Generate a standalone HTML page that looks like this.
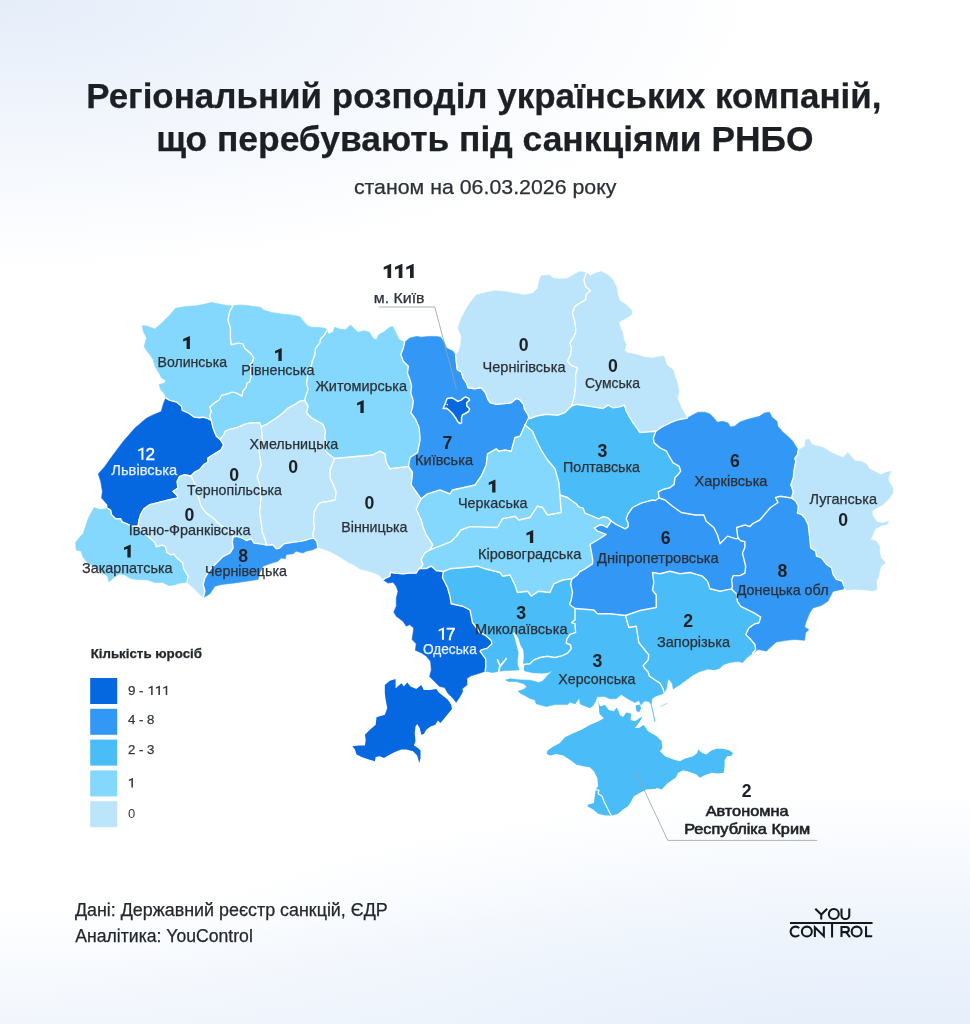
<!DOCTYPE html>
<html lang="uk"><head><meta charset="utf-8"><title>Регіональний розподіл</title>
<style>
html,body{margin:0;padding:0}
body{width:970px;height:1024px;position:relative;overflow:hidden;background:#fff;font-family:"Liberation Sans",sans-serif}
.bg{position:absolute;left:0;top:0;width:970px;height:1024px;
background:
radial-gradient(ellipse 760px 270px at 0px 0px, rgba(229,237,249,1) 0%, rgba(236,242,251,.8) 40%, rgba(255,255,255,0) 100%),
radial-gradient(ellipse 900px 300px at 900px 1090px, rgba(225,235,250,1) 0%, rgba(238,244,252,.85) 60%, rgba(255,255,255,0) 100%),
linear-gradient(to top, rgba(240,245,252,.9) 0px, rgba(255,255,255,0) 120px),
#fff}
</style></head><body><div class="bg"></div>
<svg width="970" height="1024" viewBox="0 0 970 1024" style="position:absolute;left:0;top:0;will-change:transform">
<g stroke-width="0.6" stroke-linejoin="round">
<path d="M165.7 397.9 L164.9 394.6 L160.7 389.6 L159.0 384.6 L164.9 382.9 L165.7 380.5 L161.5 378.0 L159.0 373.0 L154.9 366.3 L153.2 359.7 L149.9 354.7 L146.6 350.6 L144.1 346.4 L146.6 338.1 L143.3 331.5 L142.4 325.7 L145.8 325.7 L154.9 329.0 L160.7 324.0 L169.8 314.9 L175.6 308.3 L184.8 306.6 L196.4 305.8 L204.7 304.1 L211.3 302.4 L219.6 304.1 L227.9 305.8 L232.9 305.8 L229.6 311.6 L227.9 319.9 L230.4 328.2 L230.4 338.1 L231.2 344.8 L237.9 343.1 L242.9 343.9 L244.5 348.1 L251.2 353.9 L253.7 358.0 L252.0 363.0 L249.5 364.7 L250.3 369.7 L251.2 376.3 L249.5 382.1 L247.0 382.9 L246.2 387.1 L242.9 391.2 L242.0 396.2 L236.2 392.9 L232.1 392.1 L227.9 393.7 L221.3 395.4 L219.6 399.5 L214.6 402.9 L209.7 407.0 L211.3 411.2 L209.7 416.1 L211.3 420.3 L208.0 418.6 L203.0 417.0 L199.7 417.8 L193.9 417.0 L188.1 412.8 L182.3 410.3 L181.5 406.2 L176.5 402.0 L169.8 400.4Z" fill="#84d8fd" stroke="#84d8fd"/>
<path d="M108.2 508.7 L107.4 504.6 L101.6 497.9 L102.4 491.3 L100.7 481.3 L98.3 473.9 L104.9 466.4 L113.2 454.8 L123.2 441.5 L134.8 428.2 L146.4 418.3 L153.0 414.9 L161.3 411.6 L163.0 405.0 L165.7 397.9 L169.8 400.4 L176.5 402.0 L181.5 406.2 L182.3 410.3 L188.1 412.8 L193.9 417.0 L199.7 417.8 L203.0 417.0 L208.0 418.6 L211.3 420.3 L213.0 427.8 L214.6 431.9 L216.3 436.1 L220.0 439.2 L223.6 444.8 L221.1 449.8 L212.8 454.8 L207.8 458.1 L207.8 462.2 L203.7 464.7 L199.5 469.7 L194.5 472.2 L190.9 476.0 L184.6 474.7 L179.6 476.3 L177.1 481.3 L177.9 488.0 L172.9 491.3 L177.1 495.4 L177.9 497.9 L169.6 499.6 L159.7 502.1 L149.7 504.6 L143.9 508.7 L140.6 514.5 L138.9 520.3 L138.1 526.1 L131.5 526.1 L126.5 523.7 L122.3 522.0 L120.7 518.7 L115.7 518.7 L111.5 514.5 L110.7 510.4Z" fill="#0668e0" stroke="#0668e0"/>
<path d="M232.9 305.8 L239.5 304.9 L249.5 305.8 L261.1 307.4 L263.3 309.9 L271.6 312.4 L281.6 314.1 L291.5 314.9 L299.8 316.6 L303.1 320.7 L306.5 324.9 L311.4 327.3 L318.1 327.3 L324.7 328.2 L327.2 330.0 L323.9 335.6 L320.6 339.0 L319.7 343.1 L315.6 348.1 L314.8 354.7 L312.3 361.4 L310.6 368.0 L308.1 374.6 L306.5 382.9 L308.1 389.6 L305.6 396.2 L304.8 400.4 L299.8 401.2 L294.8 404.5 L288.2 407.8 L283.2 412.8 L276.6 417.8 L271.6 421.1 L266.6 424.4 L261.3 426.4 L259.5 422.8 L252.8 422.8 L246.2 423.6 L236.2 427.8 L229.6 429.4 L225.4 431.1 L222.9 436.1 L220.0 439.2 L216.3 436.1 L214.6 431.9 L213.0 427.8 L211.3 420.3 L209.7 416.1 L211.3 411.2 L209.7 407.0 L214.6 402.9 L219.6 399.5 L221.3 395.4 L227.9 393.7 L232.1 392.1 L236.2 392.9 L242.0 396.2 L242.9 391.2 L246.2 387.1 L247.0 382.9 L249.5 382.1 L251.2 376.3 L250.3 369.7 L249.5 364.7 L252.0 363.0 L253.7 358.0 L251.2 353.9 L244.5 348.1 L242.9 343.9 L237.9 343.1 L231.2 344.8 L230.4 338.1 L230.4 328.2 L227.9 319.9 L229.6 311.6Z" fill="#84d8fd" stroke="#84d8fd"/>
<path d="M327.2 330.0 L328.0 334.0 L333.0 332.3 L334.7 327.3 L339.6 329.0 L345.5 329.8 L350.4 324.9 L354.6 329.0 L357.9 332.3 L364.5 330.7 L369.5 332.3 L372.8 338.1 L376.2 339.8 L378.7 334.8 L384.5 331.5 L389.4 327.3 L392.8 326.5 L396.1 333.2 L399.4 339.8 L404.6 342.2 L403.3 348.0 L400.8 354.6 L403.3 361.3 L408.3 366.3 L407.4 372.9 L409.9 379.5 L411.6 386.2 L410.8 392.8 L413.3 401.1 L412.4 407.8 L410.8 412.7 L415.7 419.4 L419.1 427.7 L419.9 436.0 L420.0 440.0 L417.5 452.5 L410.0 457.5 L408.5 466.5 L390.0 468.8 L386.2 462.5 L385.0 453.8 L380.0 451.2 L372.5 455.0 L334.5 458.5 L328.9 454.3 L325.5 451.0 L326.4 444.4 L324.7 437.7 L325.5 431.1 L323.0 424.4 L317.2 421.1 L311.4 417.8 L306.5 412.8 L308.1 406.2 L304.8 400.4 L305.6 396.2 L308.1 389.6 L306.5 382.9 L308.1 374.6 L310.6 368.0 L312.3 361.4 L314.8 354.7 L315.6 348.1 L319.7 343.1 L320.6 339.0 L323.9 335.6Z" fill="#84d8fd" stroke="#84d8fd"/>
<path d="M404.6 342.2 L409.9 338.0 L416.6 336.4 L421.6 337.2 L428.2 336.4 L436.5 336.4 L440.6 337.2 L444.0 342.2 L446.5 348.0 L453.1 351.3 L455.6 355.5 L456.4 362.9 L457.2 369.6 L461.4 372.1 L463.0 377.9 L466.4 382.9 L468.0 387.8 L474.7 388.7 L481.3 387.8 L485.5 392.8 L487.9 399.5 L490.4 402.8 L496.2 404.4 L504.5 403.6 L511.2 402.8 L516.2 398.6 L519.5 399.5 L523.6 404.4 L524.5 409.4 L527.8 414.4 L528.8 417.5 L525.0 425.0 L520.0 436.2 L515.0 437.5 L511.2 451.2 L505.0 450.0 L498.8 451.2 L496.2 448.8 L487.5 453.8 L486.2 465.0 L481.2 476.2 L475.0 485.0 L452.5 490.0 L450.0 493.8 L440.0 490.0 L427.5 493.8 L421.2 498.8 L417.5 493.8 L411.2 485.0 L412.5 472.5 L408.5 466.5 L410.0 457.5 L417.5 452.5 L420.0 440.0 L419.9 436.0 L419.1 427.7 L415.7 419.4 L410.8 412.7 L412.4 407.8 L413.3 401.1 L410.8 392.8 L411.6 386.2 L409.9 379.5 L407.4 372.9 L408.3 366.3 L403.3 361.3 L400.8 354.6 L403.3 348.0Z" fill="#3397f5" stroke="#3397f5"/>
<path d="M455.6 355.5 L458.9 351.3 L460.6 344.7 L461.4 336.4 L458.1 328.1 L460.6 319.8 L464.7 311.5 L469.7 303.2 L476.3 294.9 L486.3 292.4 L494.6 290.7 L504.5 291.6 L514.5 293.2 L524.5 294.9 L532.8 293.2 L537.7 288.3 L539.4 280.0 L541.1 275.8 L549.4 275.0 L553.2 278.2 L559.8 279.1 L568.1 278.2 L574.8 274.1 L579.8 271.6 L586.4 272.4 L583.9 279.9 L585.6 286.5 L590.5 290.7 L586.4 294.0 L585.6 299.8 L579.8 303.1 L574.8 306.5 L572.3 313.1 L574.8 321.4 L575.6 328.0 L575.6 333.0 L573.1 338.0 L569.8 343.0 L571.5 347.9 L570.6 354.6 L567.3 361.2 L571.5 365.4 L577.3 367.9 L575.6 374.5 L575.6 384.5 L574.8 392.8 L573.1 401.1 L571.5 406.0 L564.8 412.7 L558.2 415.2 L546.6 414.3 L536.6 416.0 L530.0 418.5 L528.8 417.5 L527.8 414.4 L524.5 409.4 L523.6 404.4 L519.5 399.5 L516.2 398.6 L511.2 402.8 L504.5 403.6 L496.2 404.4 L490.4 402.8 L487.9 399.5 L485.5 392.8 L481.3 387.8 L474.7 388.7 L468.0 387.8 L466.4 382.9 L463.0 377.9 L461.4 372.1 L457.2 369.6 L456.4 362.9Z" fill="#bce5fc" stroke="#bce5fc"/>
<path d="M586.4 272.4 L590.5 275.7 L594.7 273.3 L601.3 271.6 L608.0 274.9 L612.9 279.9 L616.3 286.5 L617.9 294.8 L619.6 300.6 L626.2 304.8 L631.2 309.8 L632.0 313.9 L627.9 317.2 L622.9 319.7 L618.8 322.2 L620.4 328.0 L622.9 333.0 L623.7 339.6 L626.2 344.6 L624.6 350.4 L627.9 352.9 L636.2 354.6 L644.5 357.1 L652.8 357.9 L661.1 356.2 L664.1 356.6 L666.6 364.9 L673.2 369.9 L674.9 376.5 L677.4 383.2 L679.0 391.5 L677.4 398.1 L679.9 404.7 L683.2 411.4 L687.3 418.0 L678.2 419.7 L671.6 422.2 L666.6 424.6 L661.6 427.1 L655.8 431.3 L640.0 432.5 L637.5 428.8 L632.9 422.6 L629.5 416.8 L626.2 411.0 L624.6 405.2 L619.6 406.9 L612.9 407.7 L608.0 405.2 L603.0 408.5 L593.0 406.9 L583.1 405.2 L576.4 404.4 L571.5 406.0 L573.1 401.1 L574.8 392.8 L575.6 384.5 L575.6 374.5 L577.3 367.9 L571.5 365.4 L567.3 361.2 L570.6 354.6 L571.5 347.9 L569.8 343.0 L573.1 338.0 L575.6 333.0 L575.6 328.0 L574.8 321.4 L572.3 313.1 L574.8 306.5 L579.8 303.1 L585.6 299.8 L586.4 294.0 L590.5 290.7 L585.6 286.5 L583.9 279.9Z" fill="#bce5fc" stroke="#bce5fc"/>
<path d="M687.3 418.0 L693.2 414.7 L698.1 412.2 L704.8 412.2 L709.8 413.9 L713.9 418.0 L717.2 422.2 L723.0 421.3 L728.0 423.0 L730.5 427.1 L734.6 426.3 L739.6 422.2 L746.3 419.7 L752.9 418.0 L759.5 416.3 L764.5 413.0 L769.5 412.2 L772.0 417.2 L777.0 421.3 L777.8 426.3 L782.8 432.1 L787.8 436.3 L792.7 441.2 L796.9 447.9 L798.3 449.9 L797.4 454.9 L794.9 458.2 L795.8 461.5 L794.1 469.8 L793.3 478.1 L790.8 484.8 L793.3 491.4 L791.6 498.0 L780.5 496.2 L775.5 497.5 L778.0 502.5 L770.5 507.5 L759.8 520.0 L753.2 523.3 L749.9 526.6 L744.9 525.0 L736.6 527.5 L737.3 533.3 L738.0 538.0 L736.2 538.8 L727.5 536.2 L720.0 543.8 L717.5 535.0 L713.8 527.5 L706.2 521.2 L703.8 515.0 L695.0 515.0 L681.2 512.5 L672.5 506.2 L665.0 500.0 L659.1 498.0 L658.3 491.9 L663.3 489.4 L669.9 487.7 L674.1 484.4 L674.9 477.8 L678.2 474.4 L680.7 471.1 L679.0 466.1 L673.2 462.8 L669.1 456.2 L666.6 451.2 L660.0 447.9 L654.1 442.9 L653.3 437.9 L655.8 431.3 L661.6 427.1 L666.6 424.6 L671.6 422.2 L678.2 419.7Z" fill="#3397f5" stroke="#3397f5"/>
<path d="M798.3 449.9 L804.9 446.6 L805.7 439.9 L809.0 439.1 L811.5 444.1 L815.7 445.7 L823.2 447.4 L829.8 451.6 L836.4 454.9 L843.1 457.4 L848.0 452.4 L851.4 456.5 L854.7 460.7 L861.3 461.5 L866.3 464.0 L869.6 469.0 L876.3 472.3 L881.2 474.8 L886.2 472.3 L891.2 471.5 L888.7 476.5 L888.7 481.4 L892.9 488.1 L892.9 493.0 L889.5 498.0 L886.2 501.3 L882.9 504.7 L876.3 508.0 L872.1 511.3 L872.9 516.3 L877.1 522.1 L882.9 522.9 L888.7 521.3 L887.1 524.6 L881.2 525.4 L875.4 528.7 L872.9 534.5 L870.5 539.5 L876.3 541.2 L879.6 546.2 L879.6 552.8 L881.2 557.8 L885.4 562.8 L881.2 566.1 L879.6 571.1 L878.8 576.0 L876.3 581.8 L877.1 589.3 L872.9 591.0 L866.3 590.1 L854.7 589.3 L846.4 590.1 L843.9 586.0 L842.2 581.0 L836.4 579.4 L833.1 574.4 L831.5 567.7 L826.5 564.4 L821.5 557.8 L816.5 556.1 L815.7 551.1 L810.7 547.8 L809.9 539.5 L809.0 531.2 L808.2 524.6 L804.9 517.9 L801.6 514.6 L797.4 513.0 L798.3 506.3 L795.8 501.3 L791.6 498.0 L793.3 491.4 L790.8 484.8 L793.3 478.1 L794.1 469.8 L795.8 461.5 L794.9 458.2 L797.4 454.9Z" fill="#bce5fc" stroke="#bce5fc"/>
<path d="M843.9 586.0 L843.7 588.9 L832.9 591.4 L830.4 596.3 L827.9 601.3 L821.2 605.5 L812.9 608.0 L809.6 612.9 L806.3 621.2 L804.6 627.1 L808.8 629.5 L805.5 632.9 L804.6 640.3 L794.7 639.5 L786.4 640.3 L776.4 642.0 L769.8 647.8 L766.5 651.1 L758.2 649.5 L752.6 653.2 L755.7 649.5 L754.9 644.5 L750.7 639.5 L745.7 634.5 L749.0 627.9 L754.9 623.7 L759.0 622.9 L760.7 617.1 L754.0 612.9 L747.4 609.6 L740.7 606.3 L737.4 601.3 L736.6 593.9 L731.6 588.9 L732.4 586.4 L731.6 579.8 L733.3 575.6 L739.9 575.6 L744.9 573.1 L745.7 566.5 L744.1 559.8 L742.4 553.2 L744.9 547.4 L744.9 541.6 L740.7 540.7 L738.0 538.0 L737.3 533.3 L736.6 527.5 L744.9 525.0 L749.9 526.6 L753.2 523.3 L759.8 520.0 L770.5 507.5 L778.0 502.5 L775.5 497.5 L780.5 496.2 L791.6 498.0 L795.8 501.3 L798.3 506.3 L797.4 513.0 L801.6 514.6 L804.9 517.9 L808.2 524.6 L809.0 531.2 L809.9 539.5 L810.7 547.8 L815.7 551.1 L816.5 556.1 L821.5 557.8 L826.5 564.4 L831.5 567.7 L833.1 574.4 L836.4 579.4 L842.2 581.0Z" fill="#3397f5" stroke="#3397f5"/>
<path d="M752.6 653.2 L746.2 658.3 L742.9 662.4 L737.9 661.6 L729.6 662.4 L723.0 664.9 L719.7 668.2 L714.7 669.9 L708.0 669.0 L699.8 671.5 L693.1 674.9 L686.5 679.8 L679.8 684.8 L673.2 689.0 L672.4 684.0 L669.0 679.0 L667.4 681.5 L666.6 688.1 L664.1 693.1 L663.1 688.8 L660.0 683.1 L655.0 680.0 L649.4 676.2 L648.1 671.9 L645.0 668.8 L643.1 665.6 L648.1 660.0 L648.8 655.0 L638.8 642.5 L636.2 626.2 L628.8 627.5 L625.5 615.5 L640.0 610.5 L656.2 607.5 L656.2 595.0 L652.5 590.0 L653.8 582.5 L652.5 572.5 L660.0 573.8 L670.0 571.2 L680.0 573.8 L690.0 572.5 L702.5 576.2 L707.5 581.2 L710.0 588.8 L720.0 591.2 L731.6 588.9 L736.6 593.9 L737.4 601.3 L740.7 606.3 L747.4 609.6 L754.0 612.9 L760.7 617.1 L759.0 622.9 L754.9 623.7 L749.0 627.9 L745.7 634.5 L750.7 639.5 L754.9 644.5 L755.7 649.5Z" fill="#4abcf8" stroke="#4abcf8"/>
<path d="M664.1 693.1 L662.5 693.8 L655.6 696.2 L651.9 698.8 L651.2 703.8 L648.1 701.2 L643.8 701.2 L641.2 705.0 L638.8 700.6 L635.0 702.5 L630.0 700.0 L625.0 696.9 L621.2 694.4 L616.2 698.8 L610.0 698.8 L603.8 696.2 L596.9 696.9 L595.6 701.2 L592.5 706.2 L590.0 707.8 L586.2 706.5 L580.2 704.0 L579.4 698.1 L575.0 704.0 L570.0 701.9 L567.5 704.6 L555.0 704.6 L546.2 706.5 L536.2 703.8 L535.0 700.0 L530.0 698.5 L525.0 695.6 L521.2 693.8 L518.1 691.2 L523.8 689.4 L526.9 686.5 L523.8 683.8 L516.2 681.5 L508.8 681.5 L505.6 680.0 L510.0 678.8 L521.2 680.0 L530.0 680.2 L538.8 682.5 L542.5 681.2 L548.1 675.0 L553.0 670.2 L548.0 672.7 L541.4 673.2 L533.1 672.8 L524.8 671.0 L523.1 668.1 L523.8 664.4 L530.0 663.8 L533.8 660.0 L540.0 657.5 L547.5 656.2 L555.0 657.5 L562.5 655.6 L567.5 653.1 L571.2 648.8 L570.6 645.0 L566.2 643.1 L566.9 638.8 L570.0 634.4 L575.6 632.5 L575.0 623.8 L571.5 622.5 L575.0 620.0 L575.0 608.5 L593.8 610.0 L597.5 613.8 L610.0 613.8 L625.5 615.5 L628.8 627.5 L636.2 626.2 L638.8 642.5 L648.8 655.0 L648.1 660.0 L643.1 665.6 L645.0 668.8 L648.1 671.9 L649.4 676.2 L655.0 680.0 L660.0 683.1 L663.1 688.8Z" fill="#4abcf8" stroke="#4abcf8"/>
<path d="M523.1 668.1 L521.2 669.4 L517.5 670.0 L505.0 670.6 L500.0 671.2 L492.5 672.5 L485.2 671.2 L485.8 666.2 L485.6 658.8 L481.9 653.8 L480.0 651.2 L481.2 650.0 L487.5 648.1 L491.9 643.8 L491.2 640.6 L485.0 635.0 L480.0 632.5 L472.5 622.5 L470.0 610.0 L462.5 606.2 L451.2 603.8 L450.0 596.2 L447.5 587.5 L442.5 577.5 L443.3 571.5 L450.0 568.8 L465.0 567.5 L477.5 566.2 L485.0 568.8 L500.0 572.5 L502.5 576.2 L510.0 575.0 L515.0 585.0 L517.5 592.5 L527.5 591.2 L531.2 596.2 L538.8 591.2 L550.0 592.5 L553.8 583.8 L562.5 580.0 L571.9 578.8 L570.6 583.8 L572.5 592.5 L571.2 600.0 L569.5 604.5 L575.0 608.5 L575.0 620.0 L571.5 622.5 L575.0 623.8 L575.6 632.5 L570.0 634.4 L566.9 638.8 L566.2 643.1 L570.6 645.0 L571.2 648.8 L567.5 653.1 L562.5 655.6 L555.0 657.5 L547.5 656.2 L540.0 657.5 L533.8 660.0 L530.0 663.8 L523.8 664.4Z" fill="#4abcf8" stroke="#4abcf8"/>
<path d="M485.2 671.2 L479.4 673.3 L471.1 675.8 L467.0 678.3 L467.0 684.9 L462.0 689.0 L462.8 691.5 L459.5 697.3 L456.2 702.3 L452.9 698.2 L447.9 693.2 L444.6 687.4 L439.6 686.6 L434.6 681.6 L429.6 676.6 L431.3 670.0 L430.5 660.0 L430.3 661.1 L426.2 656.1 L421.2 652.8 L415.4 650.3 L416.2 643.7 L412.1 639.5 L412.9 634.5 L413.7 627.9 L409.6 624.6 L406.3 626.2 L402.9 621.2 L396.3 616.3 L393.8 612.1 L396.3 606.3 L396.3 598.0 L398.0 591.4 L396.3 586.4 L393.0 582.2 L388.0 583.1 L383.0 579.8 L385.5 578.1 L389.7 576.4 L390.5 572.3 L394.6 573.1 L402.9 573.9 L409.6 573.1 L416.2 573.1 L418.7 569.0 L419.9 568.5 L426.2 568.5 L431.2 566.1 L433.7 568.1 L436.1 570.6 L443.3 571.5 L442.5 577.5 L447.5 587.5 L450.0 596.2 L451.2 603.8 L462.5 606.2 L470.0 610.0 L472.5 622.5 L480.0 632.5 L485.0 635.0 L491.2 640.6 L491.9 643.8 L487.5 648.1 L481.2 650.0 L480.0 651.2 L481.9 653.8 L485.6 658.8 L485.8 666.2Z" fill="#0668e0" stroke="#0668e0"/>
<path d="M419.9 568.5 L426.2 568.5 L431.2 566.1 L433.7 568.1 L436.1 570.6 L443.3 571.5 L450.0 568.8 L465.0 567.5 L477.5 566.2 L485.0 568.8 L500.0 572.5 L502.5 576.2 L510.0 575.0 L515.0 585.0 L517.5 592.5 L527.5 591.2 L531.2 596.2 L538.8 591.2 L550.0 592.5 L553.8 583.8 L562.5 580.0 L571.9 578.8 L577.5 575.0 L579.4 571.9 L585.0 568.8 L592.5 563.8 L592.8 560.0 L591.2 551.2 L590.0 544.4 L597.5 540.0 L606.2 534.4 L597.5 531.2 L594.4 528.1 L596.2 526.9 L600.0 524.8 L603.8 525.6 L606.9 527.5 L609.4 523.8 L611.2 521.0 L608.1 517.9 L603.8 516.6 L601.2 517.5 L598.8 518.8 L592.5 516.2 L585.0 513.1 L583.1 508.1 L578.8 506.9 L576.2 503.8 L567.5 497.5 L560.0 495.0 L561.2 512.5 L547.5 515.0 L542.5 507.5 L537.5 506.2 L530.0 517.5 L518.8 520.0 L515.0 516.2 L502.5 518.8 L497.5 527.5 L470.0 526.6 L461.0 530.0 L456.1 536.6 L451.1 541.6 L442.8 544.9 L434.5 548.2 L429.8 549.9 L424.5 553.2 L421.2 559.8 L422.9 564.8Z" fill="#84d8fd" stroke="#84d8fd"/>
<path d="M525.0 425.0 L532.5 431.2 L536.2 440.0 L541.2 450.0 L547.5 460.0 L555.0 468.8 L558.8 482.5 L560.0 495.0 L561.2 512.5 L547.5 515.0 L542.5 507.5 L537.5 506.2 L530.0 517.5 L518.8 520.0 L515.0 516.2 L502.5 518.8 L497.5 527.5 L470.0 526.6 L461.0 530.0 L456.1 536.6 L451.1 541.6 L442.8 544.9 L434.5 548.2 L429.8 549.9 L432.8 544.9 L426.2 534.9 L422.9 526.6 L421.2 520.0 L416.2 508.8 L421.2 498.8 L427.5 493.8 L440.0 490.0 L450.0 493.8 L452.5 490.0 L475.0 485.0 L481.2 476.2 L486.2 465.0 L487.5 453.8 L496.2 448.8 L498.8 451.2 L505.0 450.0 L511.2 451.2 L515.0 437.5 L520.0 436.2Z" fill="#84d8fd" stroke="#84d8fd"/>
<path d="M528.8 417.5 L530.0 418.5 L536.6 416.0 L546.6 414.3 L558.2 415.2 L564.8 412.7 L571.5 406.0 L576.4 404.4 L583.1 405.2 L593.0 406.9 L603.0 408.5 L608.0 405.2 L612.9 407.7 L619.6 406.9 L624.6 405.2 L626.2 411.0 L629.5 416.8 L632.9 422.6 L637.5 428.8 L640.0 432.5 L655.8 431.3 L653.3 437.9 L654.1 442.9 L660.0 447.9 L666.6 451.2 L669.1 456.2 L673.2 462.8 L679.0 466.1 L680.7 471.1 L678.2 474.4 L674.9 477.8 L674.1 484.4 L669.9 487.7 L663.3 489.4 L658.3 491.9 L659.1 498.0 L655.0 500.6 L652.5 500.0 L641.2 503.1 L632.5 507.5 L628.1 513.8 L626.2 518.8 L628.1 523.1 L628.1 526.9 L625.0 528.8 L621.2 526.9 L615.0 523.8 L611.2 521.0 L608.1 517.9 L603.8 516.6 L601.2 517.5 L598.8 518.8 L592.5 516.2 L585.0 513.1 L583.1 508.1 L578.8 506.9 L576.2 503.8 L567.5 497.5 L560.0 495.0 L558.8 482.5 L555.0 468.8 L547.5 460.0 L541.2 450.0 L536.2 440.0 L532.5 431.2 L525.0 425.0Z" fill="#4abcf8" stroke="#4abcf8"/>
<path d="M611.2 521.0 L615.0 523.8 L621.2 526.9 L625.0 528.8 L628.1 526.9 L628.1 523.1 L626.2 518.8 L628.1 513.8 L632.5 507.5 L641.2 503.1 L652.5 500.0 L655.0 500.6 L659.1 498.0 L665.0 500.0 L672.5 506.2 L681.2 512.5 L695.0 515.0 L703.8 515.0 L706.2 521.2 L713.8 527.5 L717.5 535.0 L720.0 543.8 L727.5 536.2 L736.2 538.8 L738.0 538.0 L740.7 540.7 L744.9 541.6 L744.9 547.4 L742.4 553.2 L744.1 559.8 L745.7 566.5 L744.9 573.1 L739.9 575.6 L733.3 575.6 L731.6 579.8 L732.4 586.4 L731.6 588.9 L720.0 591.2 L710.0 588.8 L707.5 581.2 L702.5 576.2 L690.0 572.5 L680.0 573.8 L670.0 571.2 L660.0 573.8 L652.5 572.5 L653.8 582.5 L652.5 590.0 L656.2 595.0 L656.2 607.5 L640.0 610.5 L625.5 615.5 L610.0 613.8 L597.5 613.8 L593.8 610.0 L575.0 608.5 L569.5 604.5 L571.2 600.0 L572.5 592.5 L570.6 583.8 L571.9 578.8 L577.5 575.0 L579.4 571.9 L585.0 568.8 L592.5 563.8 L592.8 560.0 L591.2 551.2 L590.0 544.4 L597.5 540.0 L606.2 534.4 L597.5 531.2 L594.4 528.1 L596.2 526.9 L600.0 524.8 L603.8 525.6 L606.9 527.5 L609.4 523.8Z" fill="#3397f5" stroke="#3397f5"/>
<path d="M334.5 458.5 L372.5 455.0 L380.0 451.2 L385.0 453.8 L386.2 462.5 L390.0 468.8 L408.5 466.5 L412.5 472.5 L411.2 485.0 L417.5 493.8 L421.2 498.8 L416.2 508.8 L421.2 520.0 L422.9 526.6 L426.2 534.9 L432.8 544.9 L429.8 549.9 L424.5 553.2 L421.2 559.8 L422.9 564.8 L419.9 568.5 L418.7 569.0 L416.2 573.1 L409.6 573.1 L402.9 573.9 L394.6 573.1 L390.5 572.3 L389.7 576.4 L385.5 578.1 L383.0 579.8 L379.7 575.6 L374.7 573.1 L366.4 570.6 L359.8 569.0 L354.0 564.8 L348.2 562.3 L343.2 559.0 L336.6 554.9 L329.9 551.5 L323.3 549.0 L317.8 547.2 L316.9 541.4 L313.6 538.0 L312.8 533.9 L314.4 528.1 L313.6 519.8 L314.4 511.5 L317.8 504.9 L321.1 502.4 L327.7 501.5 L335.2 499.9 L336.0 491.6 L332.7 483.3 L330.2 478.3 L330.0 470.0Z" fill="#bce5fc" stroke="#bce5fc"/>
<path d="M304.8 400.4 L308.1 406.2 L306.5 412.8 L311.4 417.8 L317.2 421.1 L323.0 424.4 L325.5 431.1 L324.7 437.7 L326.4 444.4 L325.5 451.0 L328.9 454.3 L334.5 458.5 L330.0 470.0 L330.2 478.3 L332.7 483.3 L336.0 491.6 L335.2 499.9 L327.7 501.5 L321.1 502.4 L317.8 504.9 L314.4 511.5 L313.6 519.8 L314.4 528.1 L312.8 533.9 L313.6 538.0 L309.5 538.9 L304.5 540.5 L299.5 541.4 L292.9 542.2 L287.9 543.0 L283.7 543.9 L279.6 548.0 L276.3 548.8 L272.9 544.7 L266.6 545.0 L264.6 538.0 L262.2 531.4 L261.3 523.1 L259.7 513.2 L260.5 503.2 L261.3 494.9 L259.7 484.9 L257.2 476.6 L261.2 465.0 L258.8 450.0 L262.5 440.0 L261.3 426.4 L266.6 424.4 L271.6 421.1 L276.6 417.8 L283.2 412.8 L288.2 407.8 L294.8 404.5 L299.8 401.2Z" fill="#bce5fc" stroke="#bce5fc"/>
<path d="M220.0 439.2 L222.9 436.1 L225.4 431.1 L229.6 429.4 L236.2 427.8 L246.2 423.6 L252.8 422.8 L259.5 422.8 L261.3 426.4 L262.5 440.0 L258.8 450.0 L261.2 465.0 L257.2 476.6 L259.7 484.9 L261.3 494.9 L260.5 503.2 L259.7 513.2 L261.3 523.1 L262.2 531.4 L264.6 538.0 L266.6 545.0 L259.7 543.9 L253.9 543.0 L251.4 538.9 L246.4 540.5 L242.2 538.0 L237.3 536.4 L233.2 536.8 L232.7 532.8 L224.4 527.8 L217.8 522.8 L212.8 517.8 L206.1 512.9 L201.2 506.2 L198.7 497.9 L196.2 489.6 L194.5 483.0 L190.9 476.0 L194.5 472.2 L199.5 469.7 L203.7 464.7 L207.8 462.2 L207.8 458.1 L212.8 454.8 L221.1 449.8 L223.6 444.8Z" fill="#bce5fc" stroke="#bce5fc"/>
<path d="M190.9 476.0 L184.6 474.7 L179.6 476.3 L177.1 481.3 L177.9 488.0 L172.9 491.3 L177.1 495.4 L177.9 497.9 L169.6 499.6 L159.7 502.1 L149.7 504.6 L143.9 508.7 L140.6 514.5 L138.9 520.3 L138.1 526.1 L143.8 532.5 L150.0 538.1 L155.0 542.5 L156.2 546.9 L162.5 545.0 L165.6 546.9 L166.9 552.5 L171.2 555.0 L173.8 553.8 L176.2 557.5 L182.5 562.5 L183.8 568.8 L188.1 576.2 L187.0 582.5 L191.6 586.2 L198.3 592.8 L203.2 597.8 L204.9 591.2 L203.2 584.5 L204.9 577.9 L209.9 569.6 L216.5 562.9 L223.2 556.3 L229.8 553.0 L233.1 548.0 L232.3 541.4 L233.2 536.8 L232.7 532.8 L224.4 527.8 L217.8 522.8 L212.8 517.8 L206.1 512.9 L201.2 506.2 L198.7 497.9 L196.2 489.6 L194.5 483.0Z" fill="#bce5fc" stroke="#bce5fc"/>
<path d="M187.0 582.5 L180.0 583.1 L173.8 585.0 L168.8 585.6 L162.5 582.5 L155.0 582.5 L147.5 580.0 L137.5 579.4 L131.2 578.8 L125.0 575.0 L120.0 573.8 L115.6 576.2 L112.5 578.8 L108.8 581.9 L108.1 577.5 L106.2 575.0 L101.2 572.5 L95.0 567.5 L86.2 561.2 L82.5 556.2 L81.2 551.2 L76.2 550.0 L75.6 542.5 L79.4 537.5 L83.1 533.8 L85.6 526.2 L88.1 518.8 L90.6 513.8 L94.4 507.5 L100.0 509.6 L105.0 508.8 L108.2 508.7 L110.7 510.4 L111.5 514.5 L115.7 518.7 L120.7 518.7 L122.3 522.0 L126.5 523.7 L131.5 526.1 L138.1 526.1 L143.8 532.5 L150.0 538.1 L155.0 542.5 L156.2 546.9 L162.5 545.0 L165.6 546.9 L166.9 552.5 L171.2 555.0 L173.8 553.8 L176.2 557.5 L182.5 562.5 L183.8 568.8 L188.1 576.2Z" fill="#84d8fd" stroke="#84d8fd"/>
<path d="M317.8 547.2 L312.8 549.7 L306.1 551.3 L302.8 553.0 L296.2 551.3 L292.9 553.8 L286.2 554.6 L285.4 558.8 L281.2 558.0 L277.9 561.3 L269.6 563.8 L263.0 566.3 L259.7 572.9 L258.0 579.5 L246.4 581.2 L234.8 582.9 L221.5 584.5 L214.9 586.2 L209.9 593.7 L203.2 597.8 L204.9 591.2 L203.2 584.5 L204.9 577.9 L209.9 569.6 L216.5 562.9 L223.2 556.3 L229.8 553.0 L233.1 548.0 L232.3 541.4 L233.2 536.8 L237.3 536.4 L242.2 538.0 L246.4 540.5 L251.4 538.9 L253.9 543.0 L259.7 543.9 L266.6 545.0 L272.9 544.7 L276.3 548.8 L279.6 548.0 L283.7 543.9 L287.9 543.0 L292.9 542.2 L299.5 541.4 L304.5 540.5 L309.5 538.9 L313.6 538.0 L316.9 541.4Z" fill="#3397f5" stroke="#3397f5"/>
<path d="M598.0 699.5 L598.8 702.5 L600.0 706.2 L605.0 705.0 L608.8 710.0 L613.8 711.2 L616.9 707.5 L620.0 715.0 L623.1 716.9 L626.2 712.5 L631.2 713.8 L630.6 720.0 L635.0 721.2 L638.8 718.8 L642.5 716.2 L640.0 721.2 L635.0 728.1 L638.8 728.1 L643.8 725.0 L648.1 731.2 L656.6 736.3 L661.6 741.2 L662.4 747.9 L659.9 751.2 L664.9 756.2 L673.2 759.5 L679.8 761.2 L684.8 758.7 L693.1 756.2 L697.3 752.9 L698.1 749.5 L702.2 752.9 L706.4 754.5 L711.4 750.4 L716.3 748.7 L723.0 748.7 L729.6 750.4 L732.9 752.9 L732.1 755.4 L727.1 756.2 L724.6 760.3 L724.6 766.1 L723.8 772.8 L718.0 773.6 L711.4 772.8 L706.4 774.4 L699.8 777.8 L696.4 774.4 L689.8 772.0 L683.2 770.3 L678.2 772.8 L675.7 777.8 L668.2 782.7 L663.2 787.7 L661.6 789.4 L656.6 787.7 L656.2 788.8 L646.2 789.6 L639.6 792.9 L633.8 796.2 L631.3 801.2 L628.0 806.2 L623.0 809.5 L618.0 813.7 L611.4 815.8 L603.9 815.3 L598.1 813.7 L593.1 809.5 L587.3 806.2 L588.1 804.5 L593.9 802.9 L594.8 796.2 L595.6 789.6 L598.1 786.3 L597.3 778.0 L593.9 771.3 L589.8 767.2 L583.2 766.3 L576.5 764.7 L569.9 759.7 L563.2 755.6 L556.6 753.9 L550.0 755.6 L546.6 753.9 L547.5 750.6 L553.3 746.4 L559.9 743.1 L564.9 737.3 L573.2 733.2 L581.5 729.8 L589.8 724.9 L598.1 721.5 L603.9 718.2 L599.4 713.8 L598.8 705.0Z" fill="#4abcf8" stroke="none"/>
<path d="M384.8 684.9 L389.8 680.7 L395.6 679.1 L395.6 688.2 L401.4 683.2 L403.9 686.6 L407.2 682.4 L410.5 686.6 L416.3 689.0 L421.3 684.9 L423.8 689.9 L429.6 689.9 L436.3 689.0 L438.8 692.4 L442.9 695.7 L447.9 699.8 L451.2 704.8 L452.0 709.0 L448.7 713.1 L444.6 718.1 L440.4 723.1 L437.9 720.6 L435.4 724.7 L430.5 726.4 L426.3 729.7 L423.8 733.9 L421.3 734.7 L419.7 728.0 L417.2 723.9 L415.5 726.4 L414.7 733.0 L415.5 741.3 L413.9 745.5 L418.0 748.0 L420.5 750.5 L420.5 757.9 L419.3 762.9 L417.2 755.4 L413.0 751.3 L406.4 749.6 L401.4 749.6 L394.8 752.1 L388.1 755.4 L384.0 757.9 L379.8 756.3 L375.7 757.1 L374.9 761.2 L369.0 759.6 L361.6 757.1 L356.6 754.6 L354.9 749.6 L352.4 746.3 L358.3 745.5 L364.9 745.5 L365.7 739.7 L364.9 734.7 L369.9 729.7 L375.7 724.7 L376.5 717.3 L384.8 714.8 L387.3 708.1 L385.6 699.8 L384.8 693.2Z" fill="#0668e0" stroke="none"/>
</g>
<g stroke="#fff" stroke-width="1.4" stroke-linejoin="round" stroke-linecap="round" fill="none">
<path d="M232.9 305.8 L229.6 311.6 L227.9 319.9 L230.4 328.2 L230.4 338.1 L231.2 344.8 L237.9 343.1 L242.9 343.9 L244.5 348.1 L251.2 353.9 L253.7 358.0 L252.0 363.0 L249.5 364.7 L250.3 369.7 L251.2 376.3 L249.5 382.1 L247.0 382.9 L246.2 387.1 L242.9 391.2 L242.0 396.2 L236.2 392.9 L232.1 392.1 L227.9 393.7 L221.3 395.4 L219.6 399.5 L214.6 402.9 L209.7 407.0 L211.3 411.2 L209.7 416.1 L211.3 420.3"/>
<path d="M211.3 420.3 L208.0 418.6 L203.0 417.0 L199.7 417.8 L193.9 417.0 L188.1 412.8 L182.3 410.3 L181.5 406.2 L176.5 402.0 L169.8 400.4 L165.7 397.9"/>
<path d="M211.3 420.3 L213.0 427.8 L214.6 431.9 L216.3 436.1 L220.0 439.2"/>
<path d="M220.0 439.2 L223.6 444.8 L221.1 449.8 L212.8 454.8 L207.8 458.1 L207.8 462.2 L203.7 464.7 L199.5 469.7 L194.5 472.2 L190.9 476.0"/>
<path d="M190.9 476.0 L184.6 474.7 L179.6 476.3 L177.1 481.3 L177.9 488.0 L172.9 491.3 L177.1 495.4 L177.9 497.9 L169.6 499.6 L159.7 502.1 L149.7 504.6 L143.9 508.7 L140.6 514.5 L138.9 520.3 L138.1 526.1"/>
<path d="M138.1 526.1 L131.5 526.1 L126.5 523.7 L122.3 522.0 L120.7 518.7 L115.7 518.7 L111.5 514.5 L110.7 510.4 L108.2 508.7"/>
<path d="M138.1 526.1 L143.8 532.5 L150.0 538.1 L155.0 542.5 L156.2 546.9 L162.5 545.0 L165.6 546.9 L166.9 552.5 L171.2 555.0 L173.8 553.8 L176.2 557.5 L182.5 562.5 L183.8 568.8 L188.1 576.2 L187.0 582.5"/>
<path d="M203.2 597.8 L204.9 591.2 L203.2 584.5 L204.9 577.9 L209.9 569.6 L216.5 562.9 L223.2 556.3 L229.8 553.0 L233.1 548.0 L232.3 541.4 L233.2 536.8"/>
<path d="M190.9 476.0 L194.5 483.0 L196.2 489.6 L198.7 497.9 L201.2 506.2 L206.1 512.9 L212.8 517.8 L217.8 522.8 L224.4 527.8 L232.7 532.8 L233.2 536.8"/>
<path d="M233.2 536.8 L237.3 536.4 L242.2 538.0 L246.4 540.5 L251.4 538.9 L253.9 543.0 L259.7 543.9 L266.6 545.0"/>
<path d="M266.6 545.0 L272.9 544.7 L276.3 548.8 L279.6 548.0 L283.7 543.9 L287.9 543.0 L292.9 542.2 L299.5 541.4 L304.5 540.5 L309.5 538.9 L313.6 538.0"/>
<path d="M313.6 538.0 L316.9 541.4 L317.8 547.2"/>
<path d="M220.0 439.2 L222.9 436.1 L225.4 431.1 L229.6 429.4 L236.2 427.8 L246.2 423.6 L252.8 422.8 L259.5 422.8 L261.3 426.4"/>
<path d="M261.3 426.4 L262.5 440.0 L258.8 450.0 L261.2 465.0 L257.2 476.6 L259.7 484.9 L261.3 494.9 L260.5 503.2 L259.7 513.2 L261.3 523.1 L262.2 531.4 L264.6 538.0 L266.6 545.0"/>
<path d="M261.3 426.4 L266.6 424.4 L271.6 421.1 L276.6 417.8 L283.2 412.8 L288.2 407.8 L294.8 404.5 L299.8 401.2 L304.8 400.4"/>
<path d="M304.8 400.4 L305.6 396.2 L308.1 389.6 L306.5 382.9 L308.1 374.6 L310.6 368.0 L312.3 361.4 L314.8 354.7 L315.6 348.1 L319.7 343.1 L320.6 339.0 L323.9 335.6 L327.2 330.0"/>
<path d="M304.8 400.4 L308.1 406.2 L306.5 412.8 L311.4 417.8 L317.2 421.1 L323.0 424.4 L325.5 431.1 L324.7 437.7 L326.4 444.4 L325.5 451.0 L328.9 454.3 L334.5 458.5"/>
<path d="M334.5 458.5 L372.5 455.0 L380.0 451.2 L385.0 453.8 L386.2 462.5 L390.0 468.8 L408.5 466.5"/>
<path d="M404.6 342.2 L403.3 348.0 L400.8 354.6 L403.3 361.3 L408.3 366.3 L407.4 372.9 L409.9 379.5 L411.6 386.2 L410.8 392.8 L413.3 401.1 L412.4 407.8 L410.8 412.7 L415.7 419.4 L419.1 427.7 L419.9 436.0 L420.0 440.0 L417.5 452.5 L410.0 457.5 L408.5 466.5"/>
<path d="M334.5 458.5 L330.0 470.0 L330.2 478.3 L332.7 483.3 L336.0 491.6 L335.2 499.9 L327.7 501.5 L321.1 502.4 L317.8 504.9 L314.4 511.5 L313.6 519.8 L314.4 528.1 L312.8 533.9 L313.6 538.0"/>
<path d="M408.5 466.5 L412.5 472.5 L411.2 485.0 L417.5 493.8 L421.2 498.8"/>
<path d="M421.2 498.8 L416.2 508.8 L421.2 520.0 L422.9 526.6 L426.2 534.9 L432.8 544.9 L429.8 549.9"/>
<path d="M429.8 549.9 L424.5 553.2 L421.2 559.8 L422.9 564.8 L419.9 568.5"/>
<path d="M383.0 579.8 L385.5 578.1 L389.7 576.4 L390.5 572.3 L394.6 573.1 L402.9 573.9 L409.6 573.1 L416.2 573.1 L418.7 569.0 L419.9 568.5"/>
<path d="M419.9 568.5 L426.2 568.5 L431.2 566.1 L433.7 568.1 L436.1 570.6 L443.3 571.5"/>
<path d="M455.6 355.5 L456.4 362.9 L457.2 369.6 L461.4 372.1 L463.0 377.9 L466.4 382.9 L468.0 387.8 L474.7 388.7 L481.3 387.8 L485.5 392.8 L487.9 399.5 L490.4 402.8 L496.2 404.4 L504.5 403.6 L511.2 402.8 L516.2 398.6 L519.5 399.5 L523.6 404.4 L524.5 409.4 L527.8 414.4 L528.8 417.5"/>
<path d="M528.8 417.5 L525.0 425.0"/>
<path d="M525.0 425.0 L520.0 436.2 L515.0 437.5 L511.2 451.2 L505.0 450.0 L498.8 451.2 L496.2 448.8 L487.5 453.8 L486.2 465.0 L481.2 476.2 L475.0 485.0 L452.5 490.0 L450.0 493.8 L440.0 490.0 L427.5 493.8 L421.2 498.8"/>
<path d="M586.4 272.4 L583.9 279.9 L585.6 286.5 L590.5 290.7 L586.4 294.0 L585.6 299.8 L579.8 303.1 L574.8 306.5 L572.3 313.1 L574.8 321.4 L575.6 328.0 L575.6 333.0 L573.1 338.0 L569.8 343.0 L571.5 347.9 L570.6 354.6 L567.3 361.2 L571.5 365.4 L577.3 367.9 L575.6 374.5 L575.6 384.5 L574.8 392.8 L573.1 401.1 L571.5 406.0"/>
<path d="M571.5 406.0 L564.8 412.7 L558.2 415.2 L546.6 414.3 L536.6 416.0 L530.0 418.5 L528.8 417.5"/>
<path d="M571.5 406.0 L576.4 404.4 L583.1 405.2 L593.0 406.9 L603.0 408.5 L608.0 405.2 L612.9 407.7 L619.6 406.9 L624.6 405.2 L626.2 411.0 L629.5 416.8 L632.9 422.6 L637.5 428.8 L640.0 432.5 L655.8 431.3"/>
<path d="M655.8 431.3 L661.6 427.1 L666.6 424.6 L671.6 422.2 L678.2 419.7 L687.3 418.0"/>
<path d="M655.8 431.3 L653.3 437.9 L654.1 442.9 L660.0 447.9 L666.6 451.2 L669.1 456.2 L673.2 462.8 L679.0 466.1 L680.7 471.1 L678.2 474.4 L674.9 477.8 L674.1 484.4 L669.9 487.7 L663.3 489.4 L658.3 491.9 L659.1 498.0"/>
<path d="M525.0 425.0 L532.5 431.2 L536.2 440.0 L541.2 450.0 L547.5 460.0 L555.0 468.8 L558.8 482.5 L560.0 495.0"/>
<path d="M560.0 495.0 L567.5 497.5 L576.2 503.8 L578.8 506.9 L583.1 508.1 L585.0 513.1 L592.5 516.2 L598.8 518.8 L601.2 517.5 L603.8 516.6 L608.1 517.9 L611.2 521.0"/>
<path d="M611.2 521.0 L615.0 523.8 L621.2 526.9 L625.0 528.8 L628.1 526.9 L628.1 523.1 L626.2 518.8 L628.1 513.8 L632.5 507.5 L641.2 503.1 L652.5 500.0 L655.0 500.6 L659.1 498.0"/>
<path d="M611.2 521.0 L609.4 523.8 L606.9 527.5 L603.8 525.6 L600.0 524.8 L596.2 526.9 L594.4 528.1 L597.5 531.2 L606.2 534.4 L597.5 540.0 L590.0 544.4 L591.2 551.2 L592.8 560.0 L592.5 563.8 L585.0 568.8 L579.4 571.9 L577.5 575.0 L571.9 578.8"/>
<path d="M560.0 495.0 L561.2 512.5 L547.5 515.0 L542.5 507.5 L537.5 506.2 L530.0 517.5 L518.8 520.0 L515.0 516.2 L502.5 518.8 L497.5 527.5 L470.0 526.6 L461.0 530.0 L456.1 536.6 L451.1 541.6 L442.8 544.9 L434.5 548.2 L429.8 549.9"/>
<path d="M443.3 571.5 L450.0 568.8 L465.0 567.5 L477.5 566.2 L485.0 568.8 L500.0 572.5 L502.5 576.2 L510.0 575.0 L515.0 585.0 L517.5 592.5 L527.5 591.2 L531.2 596.2 L538.8 591.2 L550.0 592.5 L553.8 583.8 L562.5 580.0 L571.9 578.8"/>
<path d="M443.3 571.5 L442.5 577.5 L447.5 587.5 L450.0 596.2 L451.2 603.8 L462.5 606.2 L470.0 610.0 L472.5 622.5 L480.0 632.5 L485.0 635.0 L491.2 640.6 L491.9 643.8 L487.5 648.1 L481.2 650.0 L480.0 651.2 L481.9 653.8 L485.6 658.8 L485.8 666.2 L485.2 671.2"/>
<path d="M571.9 578.8 L570.6 583.8 L572.5 592.5 L571.2 600.0 L569.5 604.5 L575.0 608.5"/>
<path d="M575.0 608.5 L575.0 620.0 L571.5 622.5 L575.0 623.8 L575.6 632.5 L570.0 634.4 L566.9 638.8 L566.2 643.1 L570.6 645.0 L571.2 648.8 L567.5 653.1 L562.5 655.6 L555.0 657.5 L547.5 656.2 L540.0 657.5 L533.8 660.0 L530.0 663.8 L523.8 664.4 L523.1 668.1"/>
<path d="M575.0 608.5 L593.8 610.0 L597.5 613.8 L610.0 613.8 L625.5 615.5"/>
<path d="M625.5 615.5 L628.8 627.5 L636.2 626.2 L638.8 642.5 L648.8 655.0 L648.1 660.0 L643.1 665.6 L645.0 668.8 L648.1 671.9 L649.4 676.2 L655.0 680.0 L660.0 683.1 L663.1 688.8 L664.1 693.1"/>
<path d="M625.5 615.5 L640.0 610.5 L656.2 607.5 L656.2 595.0 L652.5 590.0 L653.8 582.5 L652.5 572.5 L660.0 573.8 L670.0 571.2 L680.0 573.8 L690.0 572.5 L702.5 576.2 L707.5 581.2 L710.0 588.8 L720.0 591.2 L731.6 588.9"/>
<path d="M738.0 538.0 L740.7 540.7 L744.9 541.6 L744.9 547.4 L742.4 553.2 L744.1 559.8 L745.7 566.5 L744.9 573.1 L739.9 575.6 L733.3 575.6 L731.6 579.8 L732.4 586.4 L731.6 588.9"/>
<path d="M731.6 588.9 L736.6 593.9 L737.4 601.3 L740.7 606.3 L747.4 609.6 L754.0 612.9 L760.7 617.1 L759.0 622.9 L754.9 623.7 L749.0 627.9 L745.7 634.5 L750.7 639.5 L754.9 644.5 L755.7 649.5 L752.6 653.2"/>
<path d="M659.1 498.0 L665.0 500.0 L672.5 506.2 L681.2 512.5 L695.0 515.0 L703.8 515.0 L706.2 521.2 L713.8 527.5 L717.5 535.0 L720.0 543.8 L727.5 536.2 L736.2 538.8 L738.0 538.0"/>
<path d="M791.6 498.0 L780.5 496.2 L775.5 497.5 L778.0 502.5 L770.5 507.5 L759.8 520.0 L753.2 523.3 L749.9 526.6 L744.9 525.0 L736.6 527.5 L737.3 533.3 L738.0 538.0"/>
<path d="M798.3 449.9 L797.4 454.9 L794.9 458.2 L795.8 461.5 L794.1 469.8 L793.3 478.1 L790.8 484.8 L793.3 491.4 L791.6 498.0"/>
<path d="M791.6 498.0 L795.8 501.3 L798.3 506.3 L797.4 513.0 L801.6 514.6 L804.9 517.9 L808.2 524.6 L809.0 531.2 L809.9 539.5 L810.7 547.8 L815.7 551.1 L816.5 556.1 L821.5 557.8 L826.5 564.4 L831.5 567.7 L833.1 574.4 L836.4 579.4 L842.2 581.0 L843.9 586.0"/>
<path d="M595.6 789.6 L598.9 790.4 L598.1 793.7 L602.2 796.2 L603.9 801.2 L606.4 806.2 L608.9 811.2 L611.4 815.8" fill="none" stroke-width="1.2"/>
<path d="M513.5 633.2 L515.6 639.8 L517.3 646.4 L519 653.1 L518.1 659.7 L518.1 664.7 L519.8 669.5 L523.4 669 L522.8 663 L523.4 656.4 L522.8 649.8 L519.8 644.8 L518.1 639 L515 633.2Z" fill="#fff" stroke-width="0.8"/>
<path d="M497.5 660 L500 665.6 L498.8 671.5 M506.2 658.8 L500.6 665.6" fill="none" stroke-width="1.8" stroke-linecap="round"/>
<path d="M443.1 408.5 L444.4 405.5 L445.8 402.1 L447.1 398.4 L451.8 397.8 L454.5 399.1 L457.8 401.4 L461.2 400.1 L463.5 398.1 L465.5 396.8 L468.6 398.4 L469.6 400.1 L466.6 402.8 L466.9 406.1 L469.6 408.8 L468.6 411.5 L465.2 413.5 L462.5 414.9 L461.5 417.5 L461.5 422.9 L459.9 423.6 L457.8 421.6 L455.8 418.2 L452.5 413.5 L449.1 410.2 L446.4 408.2Z" fill="#0668e0" stroke-width="1.5"/>
<circle cx="447.2" cy="404.6" r="0.8" fill="#fff" stroke="none"/>
</g>
<path d="M635.6 705.6 L640 704.4 L641.2 708.8 L638.8 712.5 L636.2 710.6Z" fill="#4abcf8"/>
<path d="M650.6 701.9 L652.5 710 L653.8 716.2 L655 721.9" fill="none" stroke="#4abcf8" stroke-width="0.9"/>
<path d="M660.6 706.5 L667.5 703.1" fill="none" stroke="#4abcf8" stroke-width="0.8" opacity=".7"/>
<g fill="none" stroke="#9aa0a8" stroke-width="1" opacity=".8">
<path d="M378.8 307 L434.8 307 L456.4 388.7"/>
<path d="M635.4 771.3 L667.8 840.4 L817.2 840.4"/>
</g>
<g font-family="'Liberation Sans', sans-serif">
<text x="157.50" y="366.50" font-size="14.6" fill="#2b3036" stroke="#2b3036" stroke-width="0.25" textLength="69.50" lengthAdjust="spacingAndGlyphs">Волинська</text>
<text x="241.25" y="375.00" font-size="14.6" fill="#2b3036" stroke="#2b3036" stroke-width="0.25" textLength="73.25" lengthAdjust="spacingAndGlyphs">Рівненська</text>
<text x="315.50" y="391.25" font-size="14.6" fill="#2b3036" stroke="#2b3036" stroke-width="0.25" textLength="91.50" lengthAdjust="spacingAndGlyphs">Житомирська</text>
<text x="415.00" y="464.50" font-size="14.6" fill="#2b3036" stroke="#2b3036" stroke-width="0.25" textLength="58.00" lengthAdjust="spacingAndGlyphs">Київська</text>
<text x="482.50" y="372.00" font-size="14.6" fill="#2b3036" stroke="#2b3036" stroke-width="0.25" textLength="83.00" lengthAdjust="spacingAndGlyphs">Чернігівська</text>
<text x="585.00" y="388.00" font-size="14.6" fill="#2b3036" stroke="#2b3036" stroke-width="0.25" textLength="55.00" lengthAdjust="spacingAndGlyphs">Сумська</text>
<text x="563.00" y="471.75" font-size="14.6" fill="#2b3036" stroke="#2b3036" stroke-width="0.25" textLength="77.00" lengthAdjust="spacingAndGlyphs">Полтавська</text>
<text x="694.50" y="485.50" font-size="14.6" fill="#2b3036" stroke="#2b3036" stroke-width="0.25" textLength="73.00" lengthAdjust="spacingAndGlyphs">Харківська</text>
<text x="809.50" y="503.75" font-size="14.6" fill="#2b3036" stroke="#2b3036" stroke-width="0.25" textLength="67.50" lengthAdjust="spacingAndGlyphs">Луганська</text>
<text x="597.00" y="562.50" font-size="14.6" fill="#2b3036" stroke="#2b3036" stroke-width="0.25" textLength="121.75" lengthAdjust="spacingAndGlyphs">Дніпропетровська</text>
<text x="736.75" y="595.00" font-size="14.6" fill="#2b3036" stroke="#2b3036" stroke-width="0.25" textLength="91.75" lengthAdjust="spacingAndGlyphs">Донецька обл</text>
<text x="478.00" y="558.75" font-size="14.6" fill="#2b3036" stroke="#2b3036" stroke-width="0.25" textLength="103.25" lengthAdjust="spacingAndGlyphs">Кіровоградська</text>
<text x="458.00" y="508.00" font-size="14.6" fill="#2b3036" stroke="#2b3036" stroke-width="0.25" textLength="69.50" lengthAdjust="spacingAndGlyphs">Черкаська</text>
<text x="341.25" y="532.00" font-size="14.6" fill="#2b3036" stroke="#2b3036" stroke-width="0.25" textLength="66.25" lengthAdjust="spacingAndGlyphs">Вінницька</text>
<text x="249.50" y="449.25" font-size="14.6" fill="#2b3036" stroke="#2b3036" stroke-width="0.25" textLength="88.75" lengthAdjust="spacingAndGlyphs">Хмельницька</text>
<text x="187.00" y="494.50" font-size="14.6" fill="#2b3036" stroke="#2b3036" stroke-width="0.25" textLength="95.00" lengthAdjust="spacingAndGlyphs">Тернопільська</text>
<text x="128.75" y="535.00" font-size="14.6" fill="#2b3036" stroke="#2b3036" stroke-width="0.25" textLength="121.75" lengthAdjust="spacingAndGlyphs">Івано-Франківська</text>
<text x="82.00" y="572.50" font-size="14.6" fill="#2b3036" stroke="#2b3036" stroke-width="0.25" textLength="90.50" lengthAdjust="spacingAndGlyphs">Закарпатська</text>
<text x="205.00" y="576.25" font-size="14.6" fill="#2b3036" stroke="#2b3036" stroke-width="0.25" textLength="82.00" lengthAdjust="spacingAndGlyphs">Чернівецька</text>
<text x="111.30" y="475.40" font-size="14.6" fill="#e6f0ff" stroke="#e6f0ff" stroke-width="0.25" textLength="66.00" lengthAdjust="spacingAndGlyphs">Львівська</text>
<text x="422.90" y="653.70" font-size="14.6" fill="#e6f0ff" stroke="#e6f0ff" stroke-width="0.25" textLength="53.90" lengthAdjust="spacingAndGlyphs">Одеська</text>
<text x="475.00" y="633.75" font-size="14.6" fill="#2b3036" stroke="#2b3036" stroke-width="0.25" textLength="92.50" lengthAdjust="spacingAndGlyphs">Миколаївська</text>
<text x="558.25" y="683.75" font-size="14.6" fill="#2b3036" stroke="#2b3036" stroke-width="0.25" textLength="77.25" lengthAdjust="spacingAndGlyphs">Херсонська</text>
<text x="657.00" y="646.75" font-size="14.6" fill="#2b3036" stroke="#2b3036" stroke-width="0.25" textLength="73.00" lengthAdjust="spacingAndGlyphs">Запорізька</text>
<text x="373.80" y="302.80" font-size="14.6" fill="#2b3036" stroke="#2b3036" stroke-width="0.25" textLength="50.70" lengthAdjust="spacingAndGlyphs">м. Київ</text>
<path d="M189.92 336.34 L189.92 349.00 L186.59 349.00 L186.59 340.15 L183.19 341.48 L183.19 339.00 L189.21 336.34 Z" fill="#1d2126"/>
<path d="M281.72 348.34 L281.72 361.00 L278.39 361.00 L278.39 352.15 L274.99 353.48 L274.99 351.00 L281.01 348.34 Z" fill="#1d2126"/>
<path d="M363.72 400.34 L363.72 413.00 L360.39 413.00 L360.39 404.15 L356.99 405.48 L356.99 403.00 L363.01 400.34 Z" fill="#1d2126"/>
<text x="447.50" y="448.50" font-size="17.7" font-weight="700" text-anchor="middle" fill="#1d2126">7</text>
<text x="523.75" y="350.50" font-size="17.7" font-weight="700" text-anchor="middle" fill="#1d2126">0</text>
<text x="613.00" y="371.50" font-size="17.7" font-weight="700" text-anchor="middle" fill="#1d2126">0</text>
<text x="602.50" y="456.75" font-size="17.7" font-weight="700" text-anchor="middle" fill="#1d2126">3</text>
<text x="735.00" y="466.75" font-size="17.7" font-weight="700" text-anchor="middle" fill="#1d2126">6</text>
<text x="843.25" y="526.25" font-size="17.7" font-weight="700" text-anchor="middle" fill="#1d2126">0</text>
<text x="665.75" y="544.25" font-size="17.7" font-weight="700" text-anchor="middle" fill="#1d2126">6</text>
<text x="782.50" y="576.75" font-size="17.7" font-weight="700" text-anchor="middle" fill="#1d2126">8</text>
<path d="M533.22 530.34 L533.22 543.00 L529.89 543.00 L529.89 534.15 L526.49 535.48 L526.49 533.00 L532.51 530.34 Z" fill="#1d2126"/>
<path d="M495.47 479.84 L495.47 492.50 L492.14 492.50 L492.14 483.65 L488.74 484.98 L488.74 482.50 L494.76 479.84 Z" fill="#1d2126"/>
<text x="369.50" y="509.25" font-size="17.7" font-weight="700" text-anchor="middle" fill="#1d2126">0</text>
<text x="293.25" y="473.00" font-size="17.7" font-weight="700" text-anchor="middle" fill="#1d2126">0</text>
<text x="234.25" y="480.50" font-size="17.7" font-weight="700" text-anchor="middle" fill="#1d2126">0</text>
<text x="189.50" y="521.00" font-size="17.7" font-weight="700" text-anchor="middle" fill="#1d2126">0</text>
<path d="M130.72 544.84 L130.72 557.50 L127.39 557.50 L127.39 548.65 L123.99 549.98 L123.99 547.50 L130.01 544.84 Z" fill="#1d2126"/>
<text x="243.25" y="562.25" font-size="17.7" font-weight="700" text-anchor="middle" fill="#1d2126">8</text>
<path d="M143.43 447.47 L143.43 459.70 L141.41 459.70 L141.41 450.04 L138.13 451.49 L138.13 449.78 L142.74 447.47 Z" fill="#fff"/><text x="150.27" y="459.70" font-size="17.1" text-anchor="middle" fill="#fff" stroke="#fff" stroke-width="0.45">2</text>
<path d="M443.93 627.47 L443.93 639.70 L441.91 639.70 L441.91 630.04 L438.63 631.49 L438.63 629.78 L443.24 627.47 Z" fill="#fff"/><text x="450.77" y="639.70" font-size="17.1" text-anchor="middle" fill="#fff" stroke="#fff" stroke-width="0.45">7</text>
<text x="521.25" y="619.25" font-size="17.7" font-weight="700" text-anchor="middle" fill="#1d2126">3</text>
<text x="597.50" y="666.75" font-size="17.7" font-weight="700" text-anchor="middle" fill="#1d2126">3</text>
<text x="688.25" y="626.75" font-size="17.7" font-weight="700" text-anchor="middle" fill="#1d2126">2</text>
<text x="746.60" y="797.20" font-size="17.7" font-weight="700" text-anchor="middle" fill="#1d2126">2</text>
<path d="M391.15 263.99 L391.15 278.00 L387.46 278.00 L387.46 268.20 L383.70 269.67 L383.70 266.93 L390.36 263.99 Z" fill="#1d2126"/><path d="M402.42 263.99 L402.42 278.00 L398.73 278.00 L398.73 268.20 L394.97 269.67 L394.97 266.93 L401.63 263.99 Z" fill="#1d2126"/><path d="M413.69 263.99 L413.69 278.00 L410.00 278.00 L410.00 268.20 L406.24 269.67 L406.24 266.93 L412.90 263.99 Z" fill="#1d2126"/>
<text x="705.70" y="816.20" font-size="14.6" fill="#1d2126" stroke="#1d2126" stroke-width="0.6" textLength="82.80" lengthAdjust="spacingAndGlyphs">Автономна</text>
<text x="684.20" y="834.40" font-size="14.6" fill="#1d2126" stroke="#1d2126" stroke-width="0.6" textLength="126.00" lengthAdjust="spacingAndGlyphs">Республіка Крим</text>
<text x="86.20" y="108.00" font-size="34.6" font-weight="700" fill="#1c1f24" stroke="#1c1f24" stroke-width="0.25" textLength="795.30" lengthAdjust="spacingAndGlyphs">Регіональний розподіл українських компаній,</text>
<text x="156.20" y="151.00" font-size="34.6" font-weight="700" fill="#1c1f24" stroke="#1c1f24" stroke-width="0.25" textLength="657.30" lengthAdjust="spacingAndGlyphs">що перебувають під санкціями РНБО</text>
<text x="353.90" y="193.70" font-size="20.7" fill="#2b3036" stroke="#2b3036" stroke-width="0.25" textLength="262.50" lengthAdjust="spacingAndGlyphs">станом на 06.03.2026 року</text>
<text x="90.70" y="657.60" font-size="13.0" font-weight="700" fill="#22262b" stroke="#22262b" stroke-width="0.25" textLength="111.30" lengthAdjust="spacingAndGlyphs">Кількість юросіб</text>
<rect x="90.2" y="678.0" width="27" height="26" fill="#0668e0"/>
<text x="127.90" y="695.10" font-size="13.0" fill="#33383f" stroke="#33383f" stroke-width="0.25" textLength="15.70" lengthAdjust="spacingAndGlyphs">9 -</text>
<path d="M152.65 685.66 L152.65 695.10 L151.09 695.10 L151.09 687.64 L148.55 688.76 L148.55 687.44 L152.12 685.66 Z" fill="#33383f"/>
<path d="M159.95 685.66 L159.95 695.10 L158.39 695.10 L158.39 687.64 L155.85 688.76 L155.85 687.44 L159.42 685.66 Z" fill="#33383f"/>
<path d="M167.25 685.66 L167.25 695.10 L165.69 695.10 L165.69 687.64 L163.15 688.76 L163.15 687.44 L166.72 685.66 Z" fill="#33383f"/>
<rect x="90.2" y="708.8" width="27" height="26" fill="#3397f5"/>
<text x="127.90" y="724.40" font-size="13.0" fill="#33383f" stroke="#33383f" stroke-width="0.25" textLength="26.50" lengthAdjust="spacingAndGlyphs">4 - 8</text>
<rect x="90.2" y="739.6" width="27" height="26" fill="#4abcf8"/>
<text x="127.90" y="753.70" font-size="13.0" fill="#33383f" stroke="#33383f" stroke-width="0.25" textLength="26.50" lengthAdjust="spacingAndGlyphs">2 - 3</text>
<rect x="90.2" y="770.4" width="27" height="26" fill="#84d8fd"/>
<path d="M132.95 778.06 L132.95 787.50 L131.39 787.50 L131.39 780.04 L128.85 781.16 L128.85 779.84 L132.42 778.06 Z" fill="#33383f"/>
<rect x="90.2" y="801.2" width="27" height="26" fill="#bce5fc"/>
<text x="127.9" y="818.1" font-size="13" fill="#33383f">0</text>
<text x="74.90" y="915.60" font-size="17.5" fill="#23272d" stroke="#23272d" stroke-width="0.25" textLength="312.80" lengthAdjust="spacingAndGlyphs">Дані: Державний реєстр санкцій, ЄДР</text>
<text x="75.30" y="942.00" font-size="17.5" fill="#23272d" stroke="#23272d" stroke-width="0.25" textLength="177.50" lengthAdjust="spacingAndGlyphs">Аналітика: YouControl</text>
</g>
<g transform="translate(780 900) scale(0.10825)" fill="none" stroke="#14171b" stroke-width="19" stroke-linecap="butt" stroke-linejoin="miter">
<path d="M92 213 H855"/>
<path d="M326 80 L381 134 L436 80 M381 132 V180"/>
<ellipse cx="497" cy="129" rx="46" ry="46"/>
<path d="M568 78 V140 A36 36 0 0 0 640 140 V78"/>
<path d="M177 260 A46 46 0 1 0 177 324"/>
<ellipse cx="248" cy="292" rx="46" ry="46"/>
<path d="M322 342 V252 L405 334 V242"/>
<path d="M481 213 V346"/>
<path d="M568 342 V249 H612 A24 24 0 0 1 612 297 H568 M610 297 L646 342"/>
<ellipse cx="708" cy="292" rx="46" ry="46"/>
<path d="M795 242 V335 H852"/>
</g>
</svg>
</body></html>
